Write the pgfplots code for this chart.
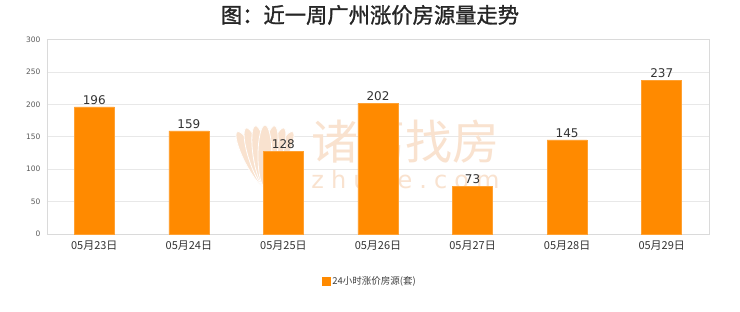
\documentclass[border=0pt]{standalone}
\usepackage{pgfplots}
\pgfplotsset{compat=1.18}
\usepackage{fontspec}
\setmainfont{DejaVu Sans}
\newfontfamily\cjk{Noto Sans CJK SC}
\newfontfamily\cjkt[FakeBold=1.3]{Noto Sans CJK SC}
\definecolor{barc}{HTML}{FF8A00}
\definecolor{wm}{HTML}{F9E2CF}
\definecolor{gridc}{HTML}{E8E8E8}
\definecolor{axc}{HTML}{DADADA}
\begin{document}
\begin{tikzpicture}
\fill[white] (-47pt,-78pt) rectangle (693pt,234pt);
\useasboundingbox (-47pt,-78pt) rectangle (693pt,234pt);
\node[font=\cjkt\fontsize{21.3}{22}\selectfont, text=black!85] at (323pt,219pt) {图：近一周广州涨价房源量走势};
\begin{axis}[
  scale only axis,
  width=662pt, height=194.5pt,
  xmin=-0.5, xmax=6.5,
  ymin=0, ymax=300,
  ytick={0,50,...,300},
  xtick={0,...,6},
  xticklabels={05月23日,05月24日,05月25日,05月26日,05月27日,05月28日,05月29日},
  xticklabel style={font=\cjk\fontsize{11}{12}\selectfont, text=black!80, yshift=-3.5pt},
  yticklabel style={font=\fontsize{7.5}{8}\selectfont, text=black!65, xshift=-3pt},
  /pgf/number format/assume math mode=true,
  major tick length=0pt,
  axis line style={axc},
  ymajorgrids, grid style={gridc, line width=0.6pt},
  axis background/.style={fill=none},
  ybar, bar width=40pt,
  nodes near coords,
  every node near coord/.append style={font=\fontsize{12}{13}\selectfont, text=black!80, yshift=-1pt},
  legend style={at={(0.488,-0.2416)}, anchor=center, draw=none, fill=white,
    font=\cjk\fontsize{9.5}{10}\selectfont, text=black!75, inner sep=3pt},
  legend image code/.code={\fill[barc] (0pt,-3.8pt) rectangle (7.5pt,3.8pt);},
  clip=false,
]
\node[font=\cjk\fontsize{47}{48}\selectfont, text=wm] at (axis cs:3.29,143) {诸葛找房};
\node[font=\fontsize{24}{26}\selectfont, text=wm] at (axis cs:3.29,80) {z\hspace{7pt}h\hspace{7pt}u\hspace{7pt}g\hspace{7pt}e\hspace{7pt}.\hspace{7pt}c\hspace{7pt}o\hspace{7pt}m};
\fill[wm, draw=white, line width=0.8pt] (axis cs:1.661,115.2) ellipse [x radius=7pt, y radius=31pt, rotate=27];
\fill[wm, draw=white, line width=0.8pt] (axis cs:1.949,115.2) ellipse [x radius=7pt, y radius=31pt, rotate=-27];
\fill[wm, draw=white, line width=0.8pt] (axis cs:1.707,118.0) ellipse [x radius=7pt, y radius=31pt, rotate=18];
\fill[wm, draw=white, line width=0.8pt] (axis cs:1.903,118.0) ellipse [x radius=7pt, y radius=31pt, rotate=-18];
\fill[wm, draw=white, line width=0.8pt] (axis cs:1.755,119.7) ellipse [x radius=7pt, y radius=31pt, rotate=9];
\fill[wm, draw=white, line width=0.8pt] (axis cs:1.855,119.7) ellipse [x radius=7pt, y radius=31pt, rotate=-9];
\fill[wm, draw=white, line width=0.8pt] (axis cs:1.805,120.3) ellipse [x radius=7pt, y radius=31pt];
\addplot[fill=barc, draw=barc!80!white, line width=0.5pt] coordinates {(0,196) (1,159) (2,128) (3,202) (4,73) (5,145) (6,237)};
\addlegendentry{24小时涨价房源(套)}
\end{axis}
\end{tikzpicture}
\end{document}
